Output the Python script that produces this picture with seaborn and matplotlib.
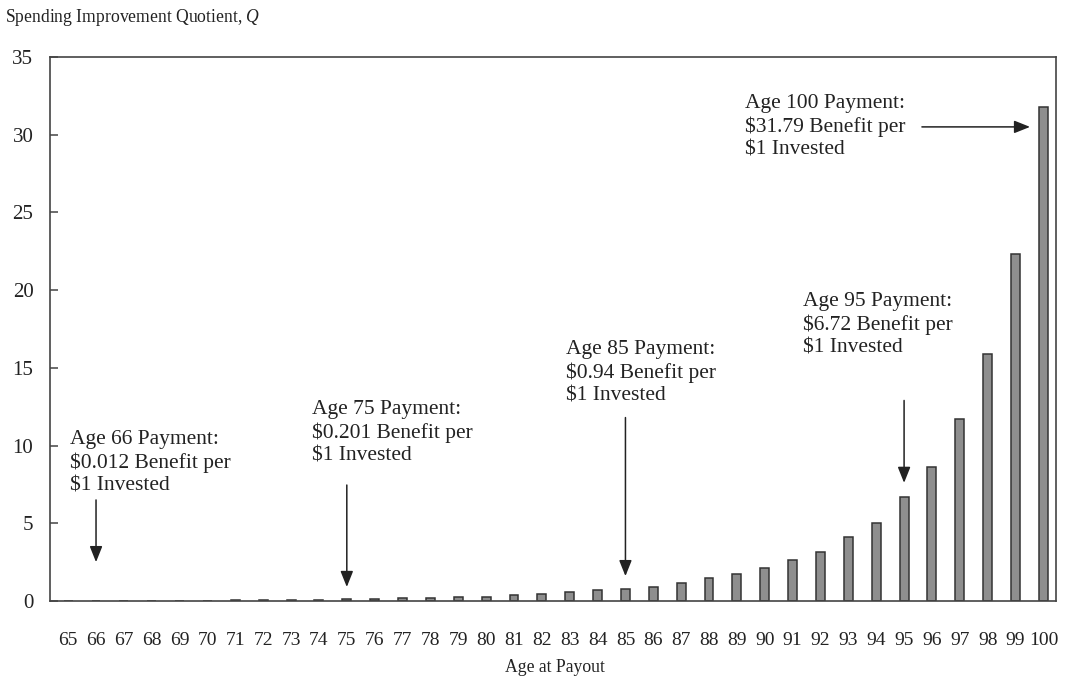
import pandas as pd
import matplotlib.pyplot as plt
import seaborn as sns

AGES = list(range(65, 101))
Q_VALUES = [
    0.0, 0.012, 0.015, 0.02, 0.025, 0.03, 0.035, 0.05, 0.06, 0.08,
    0.10, 0.15, 0.16, 0.16, 0.24, 0.28, 0.40, 0.48, 0.57, 0.70,
    0.80, 0.90, 1.18, 1.46, 1.76, 2.15, 2.66, 3.15, 4.12, 5.0,
    6.72, 8.65, 11.7, 15.9, 22.3, 31.79,
]
Y_TICKS = [0, 5, 10, 15, 20, 25, 30, 35]

# (text, age the arrow points to)
NOTES = [
    ("Age 66 Payment:\n$0.012 Benefit per\n$1 Invested", 66),
    ("Age 75 Payment:\n$0.201 Benefit per\n$1 Invested", 75),
    ("Age 85 Payment:\n$0.94 Benefit per\n$1 Invested", 85),
    ("Age 95 Payment:\n$6.72 Benefit per\n$1 Invested", 95),
    ("Age 100 Payment:\n$31.79 Benefit per\n$1 Invested", 100),
]

sns.set_theme(style="white")
plt.rcParams["font.family"] = ["Liberation Serif", "DejaVu Serif"]
plt.rcParams["mathtext.fontset"] = "custom"
plt.rcParams["mathtext.it"] = "Liberation Serif:italic"
plt.rcParams["mathtext.rm"] = "Liberation Serif"

TEXT_COLOR = "#222222"
AXIS_COLOR = "#444444"

df = pd.DataFrame({"Age": [str(a) for a in AGES], "Q": Q_VALUES})

fig = plt.figure(figsize=(10.65, 6.78), dpi=100)
ax = fig.add_axes([0.047, 0.1136, 0.9445, 0.8024])

sns.barplot(
    data=df, x="Age", y="Q", ax=ax,
    color="#8e8e8e", edgecolor="#333333", linewidth=1.1,
    width=0.32, saturation=1,
)

ax.set_xlim(-0.65, 35.45)
ax.set_ylim(0, 35)
ax.set_yticks(Y_TICKS)
ax.set_xlabel("")
ax.set_ylabel("")

for side in ["top", "bottom", "left", "right"]:
    ax.spines[side].set_visible(True)
    ax.spines[side].set_color(AXIS_COLOR)
    ax.spines[side].set_linewidth(1.2)

ax.tick_params(axis="y", direction="in", length=6, width=1.1, color=AXIS_COLOR,
               pad=12, labelsize=15, labelcolor=TEXT_COLOR, left=True)
ax.tick_params(axis="x", length=0, pad=22, labelsize=14, labelcolor=TEXT_COLOR)

fig.text(5 / 1065, 1 - 17 / 678, r"Spending Improvement Quotient, $\mathit{Q}$",
         fontsize=12.7, color=TEXT_COLOR, va="center", ha="left")
fig.text(555 / 1065, 1 - 667 / 678, "Age at Payout",
         fontsize=12.7, color=TEXT_COLOR, va="center", ha="center")

idx = {a: i for i, a in enumerate(AGES)}

# text block positions (index, value of middle line)
text_pos = [(0.07, 8.88), (8.75, 10.81), (17.87, 14.67), (26.37, 17.76), (24.29, 30.5)]
for (label, age), (tx, ty) in zip(NOTES, text_pos):
    ax.text(tx, ty, label, fontsize=15.5, color=TEXT_COLOR, ha="left", va="center",
            linespacing=1.25)

arrow_style = dict(arrowstyle="-|>,head_length=0.8,head_width=0.32",
                   color="#222222", lw=1.1, shrinkA=0, shrinkB=0)
down_arrows = [(66, 6.5, 2.5), (75, 7.46, 0.9), (85, 11.8, 1.6), (95, 12.9, 7.6)]
for age, y0, y1 in down_arrows:
    ax.annotate("", xy=(idx[age], y1), xytext=(idx[age], y0), arrowprops=arrow_style)
ax.annotate("", xy=(34.52, 30.5), xytext=(30.64, 30.5), arrowprops=arrow_style)

fig.savefig("out.png", dpi=100, facecolor="white")
